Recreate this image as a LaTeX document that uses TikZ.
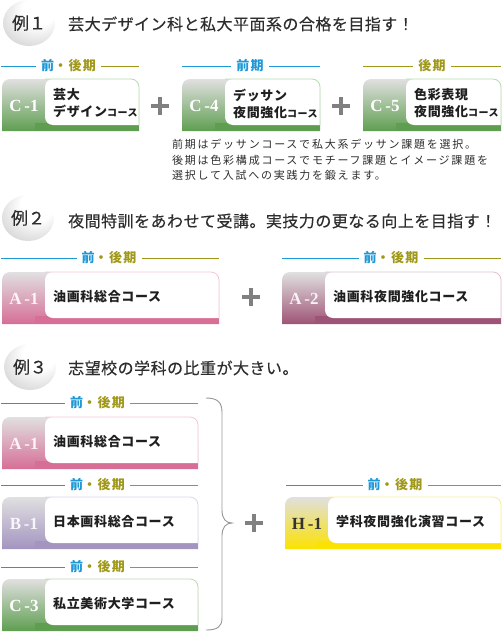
\documentclass[tikz,border=0pt]{standalone}
\usepackage{fontspec}
\newfontfamily\jp{Noto Sans CJK JP}
\newfontfamily\labfont{Liberation Serif}
\usetikzlibrary{shapes.geometric}
\definecolor{blu}{RGB}{30,152,215}
\definecolor{oli}{RGB}{160,152,24}
\definecolor{txtgray}{RGB}{45,45,45}
\definecolor{plusgray}{RGB}{128,128,128}
\definecolor{bracegray}{RGB}{150,150,150}
\definecolor{tabtop}{RGB}{224,224,224}
\definecolor{cgreen}{RGB}{95,158,80}
\definecolor{cgreenB}{RGB}{185,218,175}
\definecolor{cpink}{RGB}{214,110,150}
\definecolor{cpinkB}{RGB}{240,200,215}
\definecolor{cmauve}{RGB}{158,84,118}
\definecolor{cmauveB}{RGB}{225,195,208}
\definecolor{cpurple}{RGB}{163,148,192}
\definecolor{cpurpleB}{RGB}{218,214,232}
\definecolor{cyellow}{RGB}{252,226,0}
\definecolor{cyellowB}{RGB}{250,238,150}
\pgfdeclareradialshading{badge}{\pgfpoint{12bp}{18bp}}{color(0bp)=(white); color(16bp)=(white); color(42bp)=(black!20); color(64bp)=(black!34)}

\newcommand\cbox[9]{%
  \shade[top color=tabtop, bottom color=#5, rounded corners=8pt] (#2,{#3+52}) -- (#2,#3) -- ({#2+#4},#3) -- ({#2+#4},{#3+52});
  \fill[#5] ({#2+33},{#3+44}) rectangle ({#2+#4},{#3+52});
  \fill[white, rounded corners=8pt] ({#2+#4},{#3+46}) -- ({#2+43},{#3+46}) -- ({#2+43},#3) -- ({#2+#4},#3) -- ({#2+#4},{#3+46});
  \draw[#6, line width=0.8pt, rounded corners=8pt] ({#2+43},#3) -- ({#2+#4},#3) -- ({#2+#4},{#3+46});
  \node[labsty, text=#7] (#1l) at ({#2+22},{#3+27}) {#8};
  \node[ctext] (#1t) at ({#2+51},{#3+24.5}) {#9};
}
\newcommand\plussign[3]{%
  \coordinate (#1) at (#2,#3);
  \draw[plus] ([xshift=-9pt]#1) -- ([xshift=9pt]#1);
  \draw[plus] ([yshift=-9pt]#1) -- ([yshift=9pt]#1);
}
\newcommand\cs[1]{{\fontsize{10}{12}\selectfont #1}}
\newcommand\zk{{\color{blu}前}{\color{oli}・後期}}

\begin{document}
\begin{tikzpicture}[x=1pt,y=-1pt,
  ttl/.style={anchor=west, inner sep=0, text=txtgray, font=\jp\fontsize{16}{18}\selectfont\addfontfeatures{LetterSpace=3,FakeBold=0.3}},
  badgenode/.style={ellipse, shading=badge, minimum width=52pt, minimum height=46pt, inner sep=0, text=txtgray, font=\jp\fontsize{17}{19}\selectfont\addfontfeatures{FakeBold=0.3}},
  per/.style={inner xsep=5pt, inner ysep=0, font=\jp\bfseries\fontsize{13}{15}\selectfont\addfontfeatures{LetterSpace=10}},
  labsty/.style={inner sep=0, font=\labfont\bfseries\fontsize{17}{19}\selectfont},
  ctext/.style={anchor=west, align=left, inner sep=0, text=black!88, font=\jp\bfseries\fontsize{13}{17}\selectfont\addfontfeatures{LetterSpace=5}},
  note/.style={anchor=north west, align=left, inner sep=0, text=txtgray, font=\jp\fontsize{11}{15.5}\selectfont\addfontfeatures{LetterSpace=16}},
  pline/.style={line width=0.8pt},
  plus/.style={draw=plusgray, line width=3.5pt}]
\useasboundingbox (0,0) rectangle (502,632);

% ---------- Example 1
\node[badgenode] (b1) at (29,23) {例１};
\node[ttl] (t1) at (68,24) {芸大デザイン科と私大平面系の合格を目指す！};

\node[per] (p11) at (68.5,66) {\zk};
\draw[pline, blu] (1,66) -- (p11.west);
\draw[pline, oli] (p11.east) -- (139,66);
\node[per] (p12) at (250,66) {\color{blu}前期};
\draw[pline, blu] (182,66) -- (p12.west);
\draw[pline, blu] (p12.east) -- (320,66);
\node[per] (p13) at (432,66) {\color{oli}後期};
\draw[pline, oli] (363,66) -- (p13.west);
\draw[pline, oli] (p13.east) -- (501,66);

\cbox{c1}{2}{79}{137}{cgreen}{cgreenB}{white}{C\,-1}{芸大\\デザイン\cs{コース}}
\cbox{c4}{182}{79}{138}{cgreen}{cgreenB}{white}{C\,-4}{デッサン\\夜間強化\cs{コース}}
\cbox{c5}{363}{79}{138}{cgreen}{cgreenB}{white}{C\,-5}{色彩表現\\夜間強化\cs{コース}}
\plussign{pl1}{160}{106}
\plussign{pl2}{341}{106}

\node[note] (n1) at (172,139) {前期はデッサンコースで私大系デッサン課題を選択。\\後期は色彩構成コースでモチーフ課題とイメージ課題を\\選択して入試への実践力を鍛えます。};

% ---------- Example 2
\node[badgenode] (b2) at (28,218) {例２};
\node[ttl] (t2) at (68,221) {夜間特訓をあわせて受講。実技力の更なる向上を目指す！};

\node[per] (p21) at (109,258) {\zk};
\draw[pline, blu] (1,258) -- (p21.west);
\draw[pline, oli] (p21.east) -- (219,258);
\node[per] (p22) at (391,258) {\zk};
\draw[pline, blu] (282,258) -- (p22.west);
\draw[pline, oli] (p22.east) -- (501,258);

\cbox{a1}{2}{272}{217}{cpink}{cpinkB}{white!92!cpink}{A\,-1}{油画科総合コース}
\cbox{a2}{282}{272}{219}{cmauve}{cmauveB}{white!92!cmauve}{A\,-2}{油画科夜間強化コース}
\plussign{pl3}{251}{297}

% ---------- Example 3
\node[badgenode] (b3) at (30,367) {例３};
\node[ttl] (t3) at (68,368) {志望校の学科の比重が大きい。};

\node[per] (p31) at (97.5,403) {\zk};
\draw[pline, blu] (1,403) -- (p31.west);
\draw[pline, oli] (p31.east) -- (198,403);
\node[per] (p32) at (97.5,485) {\zk};
\draw[pline, blu] (1,485) -- (p32.west);
\draw[pline, oli] (p32.east) -- (198,485);
\node[per] (p33) at (97.5,567) {\zk};
\draw[pline, blu] (1,567) -- (p33.west);
\draw[pline, oli] (p33.east) -- (198,567);
\node[per] (p34) at (395,485) {\zk};
\draw[pline, blu] (286,485) -- (p34.west);
\draw[pline, oli] (p34.east) -- (501,485);

\cbox{a3}{2}{417}{196}{cpink}{cpinkB}{white!92!cpink}{A\,-1}{油画科総合コース}
\cbox{b4}{2}{497}{196}{cpurple}{cpurpleB}{white!92!cpurple}{B\,-1}{日本画科総合コース}
\cbox{c6}{2}{579}{196}{cgreen}{cgreenB}{white}{C\,-3}{私立美術大学コース}
\cbox{h1}{285}{497}{216}{cyellow}{cyellowB}{black!80}{H\,-1}{学科夜間強化演習コース}

\draw[bracegray, line width=0.9pt] (206,398) .. controls (217,398) and (222,402) .. (222,412) -- (222,510) .. controls (222,519) and (226,523) .. (232,523) .. controls (226,523) and (222,527) .. (222,536) -- (222,618) .. controls (222,627) and (217,630) .. (206,630);
\plussign{pl4}{254}{523}
\end{tikzpicture}
\end{document}
